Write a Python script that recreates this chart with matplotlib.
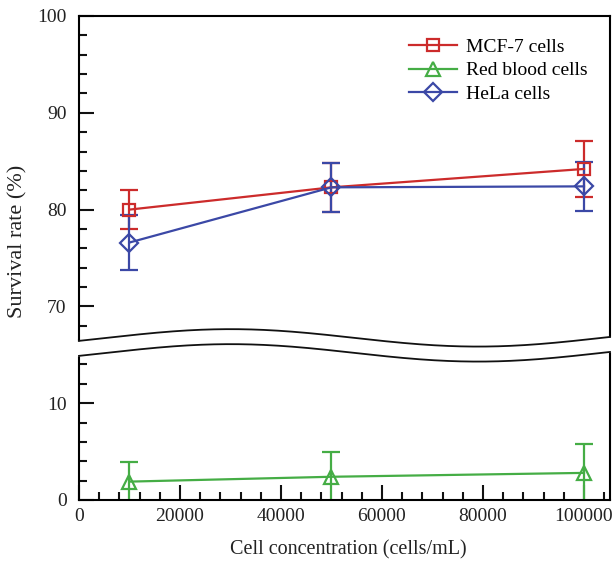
import matplotlib.pyplot as plt
import numpy as np
from matplotlib.ticker import MultipleLocator, FixedLocator

# data
conc = [10000, 50000, 100000]
mcf7 = [80.0, 82.3, 84.2]
mcf7_err = [2.0, 2.5, 2.9]
rbc = [1.9, 2.4, 2.8]
rbc_err = [2.0, 2.6, 3.0]
hela = [76.6, 82.3, 82.4]
hela_err = [2.8, 2.5, 2.5]

red = "#cc2b2b"
green = "#45ad45"
blue = "#3b48a6"

plt.rcParams["font.family"] = ["Liberation Serif", "DejaVu Serif"]
plt.rcParams["axes.linewidth"] = 1.5

W, H = 615, 563
fig = plt.figure(figsize=(W / 100, H / 100), dpi=100)

ppu = 9.68  # pixels per y unit, same in both panels
x0, x1 = 79, 610
up_lim = (65.5, 100)
lo_lim = (0, 16.5)
up_top = 16
up_h = (up_lim[1] - up_lim[0]) * ppu
lo_bot = 500
lo_h = (lo_lim[1] - lo_lim[0]) * ppu

ax_up = fig.add_axes([x0 / W, (H - up_top - up_h) / H, (x1 - x0) / W, up_h / H])
ax_lo = fig.add_axes([x0 / W, (H - lo_bot) / H, (x1 - x0) / W, lo_h / H])
for a in (ax_up, ax_lo):
    a.set_facecolor("none")
    a.set_xlim(0, 105150)

kw = dict(lw=1.6, elinewidth=1.6, capsize=6.5, capthick=1.6, mfc="none", mew=1.6)
l1 = ax_up.errorbar(conc, mcf7, yerr=mcf7_err, color=red, marker="s", ms=9, **kw)
l3 = ax_up.errorbar(conc, hela, yerr=hela_err, color=blue, marker="D", ms=9, **kw)
l2 = ax_lo.errorbar(conc, rbc, yerr=rbc_err, color=green, marker="^", ms=10, **kw)

ax_up.set_ylim(*up_lim)
ax_lo.set_ylim(*lo_lim)

ax_up.yaxis.set_major_locator(FixedLocator([70, 80, 90, 100]))
ax_up.yaxis.set_minor_locator(MultipleLocator(2))
ax_lo.yaxis.set_major_locator(FixedLocator([0, 10]))
ax_lo.yaxis.set_minor_locator(MultipleLocator(2))
ax_lo.xaxis.set_major_locator(MultipleLocator(20000))
ax_lo.xaxis.set_minor_locator(MultipleLocator(4000))

ax_up.spines["bottom"].set_visible(False)
ax_lo.spines["top"].set_visible(False)
ax_up.tick_params(axis="x", which="both", bottom=False, labelbottom=False)
for a in (ax_up, ax_lo):
    a.tick_params(which="both", direction="in", width=1.5, right=False, top=False,
                  labelsize=14, color="#111111", labelcolor="#222222")
    a.tick_params(which="major", length=11)
    a.tick_params(which="minor", length=6)
    a.tick_params(axis="y", pad=9)
    a.tick_params(axis="x", pad=6)

# wavy axis break, drawn in the lower panel's coordinates
xs = np.linspace(0, 105150, 300)
xf = np.linspace(-3000, 108000, 300)
wave = lambda x, mid: mid + 0.9 * np.cos(2 * np.pi * (x - 30000) / 98000)
ax_lo.fill_between(xf, wave(xf, 15.2), wave(xf, 16.75), color="white", zorder=10, clip_on=False, lw=0)
ax_lo.plot(xs, wave(xs, 15.2), color="#111111", lw=1.3, zorder=11, clip_on=False)
ax_lo.plot(xs, wave(xs, 16.75), color="#111111", lw=1.3, zorder=11, clip_on=False)

ax_up.legend([l1[0], l2[0], l3[0]], ["MCF-7 cells", "Red blood cells", "HeLa cells"],
             loc="upper right", frameon=False, fontsize=14, handlelength=2.5,
             handletextpad=0.45, labelspacing=0.3, borderaxespad=0.75)

fig.text(18 / W, 1 - 241 / H, "Survival rate (%)", rotation=90, ha="center", va="center",
         fontsize=16, color="#222222")
fig.text(348 / W, 1 - 550 / H, "Cell concentration (cells/mL)", ha="center", va="center",
         fontsize=14.5, color="#222222")

fig.savefig("out.png", dpi=100)
